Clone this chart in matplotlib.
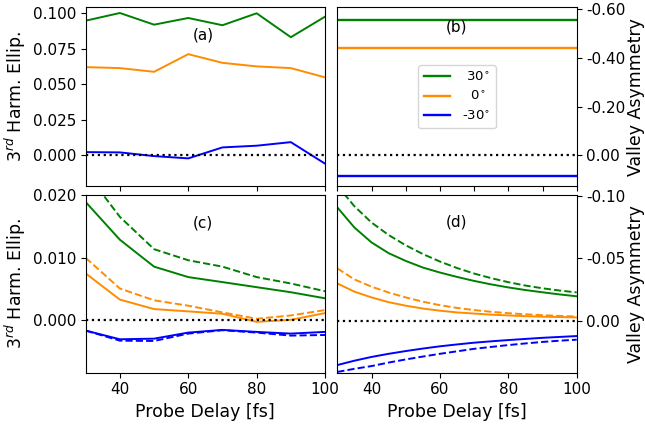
import matplotlib
matplotlib.use("Agg")
import matplotlib.pyplot as plt
import numpy as np

# ---- data ----
delay = [30, 40, 50, 60, 70, 80, 90, 100]
a_p30 = [0.0946, 0.1000, 0.0918, 0.0965, 0.0914, 0.0998, 0.0830, 0.0974]
a_0 = [0.0620, 0.0613, 0.0587, 0.0711, 0.0650, 0.0625, 0.0613, 0.0548]
a_m30 = [0.0023, 0.0021, -0.0005, -0.0021, 0.0056, 0.0068, 0.0093, -0.0058]

b_p30 = [-0.556] * 8
b_0 = [-0.442] * 8
b_m30 = [0.084] * 8

c_p30 = [0.01887, 0.01285, 0.00855, 0.00688, 0.00608, 0.00527, 0.00446, 0.00349]
c_p30_d = [0.0237, 0.0165, 0.01134, 0.00957, 0.00855, 0.00688, 0.00586, 0.00462]
c_0 = [0.00747, 0.00328, 0.00177, 0.0014, 0.00102, -0.00027, 0.00005, 0.00113]
c_0_d = [0.00995, 0.00505, 0.00317, 0.00231, 0.00124, 0.00022, 0.00075, 0.00161]
c_m30 = [-0.00167, -0.00306, -0.00296, -0.00199, -0.00156, -0.00188, -0.00215, -0.00188]
c_m30_d = [-0.00167, -0.00328, -0.00333, -0.00215, -0.00161, -0.00199, -0.00247, -0.00237]

delay_d = [30, 35, 40, 45, 50, 55, 60, 65, 70, 75, 80, 85, 90, 95, 100]
d_p30 = [-0.0906, -0.0745, -0.0626, -0.0540, -0.0478, -0.0425, -0.0385, -0.0350,
         -0.0318, -0.0290, -0.0266, -0.0245, -0.0227, -0.0210, -0.0195]
d_p30_d = [-0.108, -0.0915, -0.0785, -0.0685, -0.0603, -0.0533, -0.0473, -0.0421,
           -0.0377, -0.0340, -0.0308, -0.0281, -0.0259, -0.0241, -0.0226]
d_0 = [-0.0298, -0.0232, -0.0186, -0.0148, -0.0120, -0.0097, -0.0080, -0.0066,
       -0.0057, -0.0048, -0.0042, -0.0036, -0.0032, -0.0029, -0.0026]
d_0_d = [-0.0418, -0.0330, -0.0272, -0.0225, -0.0186, -0.0152, -0.0124, -0.0102,
         -0.0085, -0.0071, -0.0060, -0.0051, -0.0044, -0.0038, -0.0033]
d_m30 = [0.0355, 0.0320, 0.0290, 0.0265, 0.0243, 0.0223, 0.0205, 0.0190,
         0.0176, 0.0165, 0.0155, 0.0146, 0.0137, 0.0130, 0.0123]
d_m30_d = [0.0410, 0.0385, 0.0363, 0.0335, 0.0310, 0.0287, 0.0265, 0.0245,
           0.0225, 0.0210, 0.0195, 0.0182, 0.0170, 0.0160, 0.0152]

legend_labels = ['  30$^{\\circ}$', '   0$^{\\circ}$', ' -30$^{\\circ}$']
colors = ['green', 'darkorange', 'blue']

W, H = 645, 424
fig = plt.figure(figsize=(W / 100, H / 100), dpi=100)

def rect(x0, y0, x1, y1):
    return [x0 / W, 1 - y1 / H, (x1 - x0) / W, (y1 - y0) / H]

axA = fig.add_axes(rect(85.7, 7.3, 325, 186))
axB = fig.add_axes(rect(337.3, 7.3, 576.7, 186))
axC = fig.add_axes(rect(85.7, 195, 325, 372.7))
axD = fig.add_axes(rect(337.3, 195, 576.7, 372.7))

lw = 1.4
tick_fs = 11
label_fs = 12.5

# (a)
for ys, c in zip([a_p30, a_0, a_m30], colors):
    axA.plot(delay, ys, color=c, lw=lw)
axA.axhline(0, color='black', ls=':', lw=1.6)
axA.set_ylim(-0.0215, 0.104)
axA.set_yticks([0.0, 0.025, 0.05, 0.075, 0.1])
axA.set_yticklabels(['0.000', '0.025', '0.050', '0.075', '0.100'])
axA.set_xticks([40, 60, 80, 100])
axA.set_xticklabels([])
axA.text(0.49, 0.845, '(a)', transform=axA.transAxes, ha='center', va='center', fontsize=11)
axA.set_ylabel('3$^{rd}$ Harm. Ellip.', fontsize=label_fs, labelpad=3)

# (b)
for ys, c, lab in zip([b_p30, b_0, b_m30], colors, legend_labels):
    axB.plot(delay, ys, color=c, lw=lw + 0.3, label=lab)
axB.axhline(0, color='black', ls=':', lw=1.6)
axB.set_ylim(0.126, -0.608)
axB.set_yticks([0.0, -0.2, -0.4, -0.6])
axB.set_yticklabels(['0.00', '-0.20', '-0.40', '-0.60'])
axB.set_xticks([30, 40, 50, 60, 70, 80, 90, 100])
axB.set_xticklabels([])
axB.yaxis.tick_right()
axB.yaxis.set_label_position('right')
axB.set_ylabel('Valley Asymmetry', fontsize=label_fs, labelpad=1)
axB.text(0.496, 0.89, '(b)', transform=axB.transAxes, ha='center', va='center', fontsize=11)
axB.legend(loc='center', fontsize=9.5, handlelength=2.0, handletextpad=0.6)

# (c)
for ys, yd, c in zip([c_p30, c_0, c_m30], [c_p30_d, c_0_d, c_m30_d], colors):
    axC.plot(delay, ys, color=c, lw=lw)
    axC.plot(delay, yd, color=c, lw=lw, ls='--')
axC.axhline(0, color='black', ls=':', lw=1.6)
axC.set_ylim(-0.0084, 0.020)
axC.set_yticks([0.0, 0.01, 0.02])
axC.set_yticklabels(['0.000', '0.010', '0.020'])
axC.set_xticks([40, 60, 80, 100])
axC.set_xlabel('Probe Delay [fs]', fontsize=label_fs)
axC.set_ylabel('3$^{rd}$ Harm. Ellip.', fontsize=label_fs, labelpad=3)
axC.text(0.49, 0.844, '(c)', transform=axC.transAxes, ha='center', va='center', fontsize=11)

# (d)
for ys, yd, c in zip([d_p30, d_0, d_m30], [d_p30_d, d_0_d, d_m30_d], colors):
    axD.plot(delay_d, ys, color=c, lw=lw)
    axD.plot(delay_d, yd, color=c, lw=lw, ls='--')
axD.axhline(0, color='black', ls=':', lw=1.6)
axD.set_ylim(0.0416, -0.1005)
axD.set_yticks([0.0, -0.05, -0.1])
axD.set_yticklabels(['0.00', '-0.05', '-0.10'])
axD.set_xticks([40, 60, 80, 100])
axD.yaxis.tick_right()
axD.yaxis.set_label_position('right')
axD.set_ylabel('Valley Asymmetry', fontsize=label_fs, labelpad=1)
axD.set_xlabel('Probe Delay [fs]', fontsize=label_fs)
axD.text(0.496, 0.85, '(d)', transform=axD.transAxes, ha='center', va='center', fontsize=11)

for ax in (axA, axB, axC, axD):
    ax.set_xlim(30, 100)
    ax.tick_params(labelsize=tick_fs)

fig.savefig('out.png', dpi=100)
